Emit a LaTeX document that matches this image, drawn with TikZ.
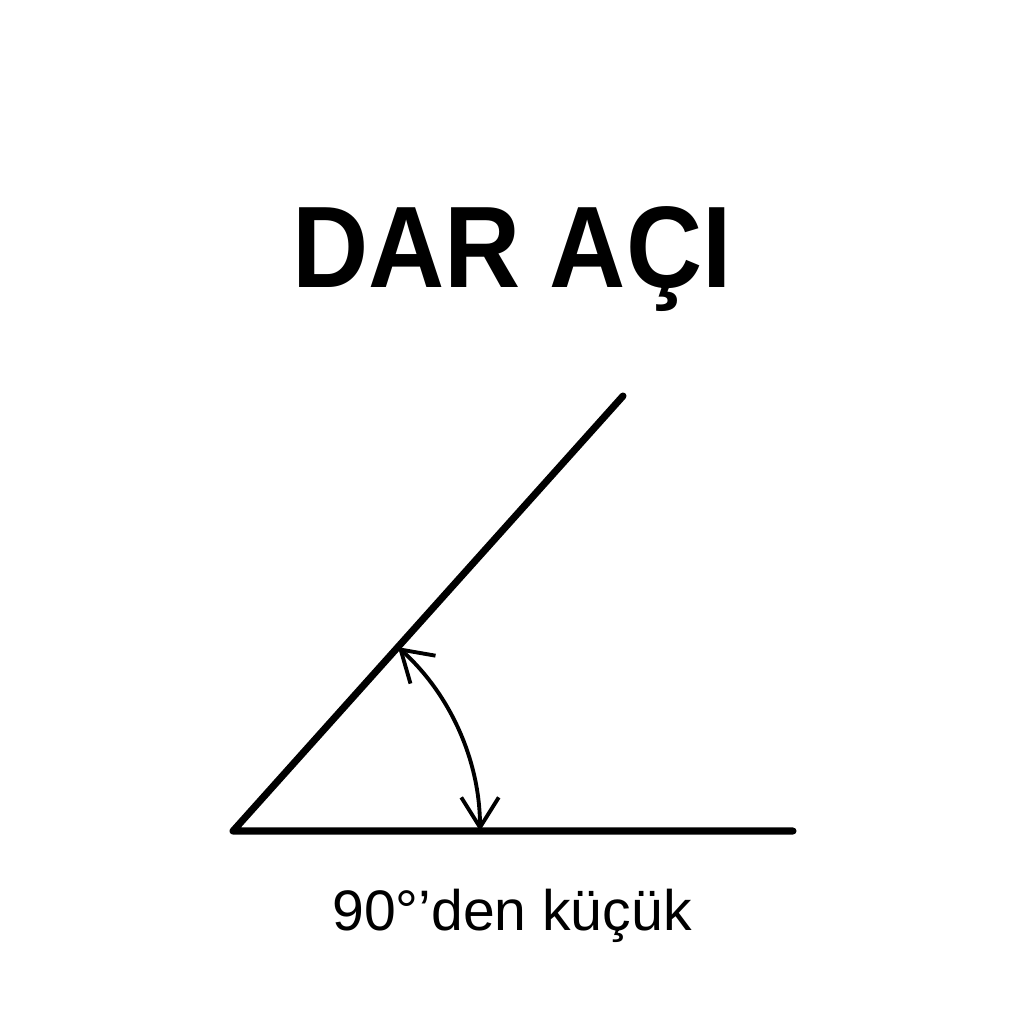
\documentclass[tikz,border=0pt]{standalone}
\usepackage{fontspec}
\setmainfont{Liberation Sans}
\usepackage{tikz}
\usetikzlibrary{arrows.meta, positioning}

\begin{document}
\begin{tikzpicture}[x=0.02cm,y=-0.02cm,
    ray/.style={line width=4pt,line cap=round,line join=round},
    anglearc/.style={line width=2.2pt,{Straight Barb[length=6mm,width=7.5mm]}-{Straight Barb[length=6mm,width=7.5mm]}},
    heading/.style={font=\fontsize{66}{66}\selectfont\bfseries,xscale=0.91,transform shape,anchor=base},
    caption/.style={font=\fontsize{32.5}{33}\selectfont,anchor=base}]
    \useasboundingbox (0,0) rectangle (1024,1024);
    \node[heading] (title) at (512,287) {DAR AÇI};
    \coordinate (O) at (233,831);
    \coordinate (A) at (793,831);
    \coordinate (B) at (623,396);
    \coordinate (P) at (480,831);
    \draw[ray] (A) -- (O) -- (B);
    \draw[anglearc] (P) arc[start angle=0,end angle=-48.1,radius=247];
    \node[caption] (lbl) at (512,930) {90°’den küçük};
\end{tikzpicture}
\end{document}
